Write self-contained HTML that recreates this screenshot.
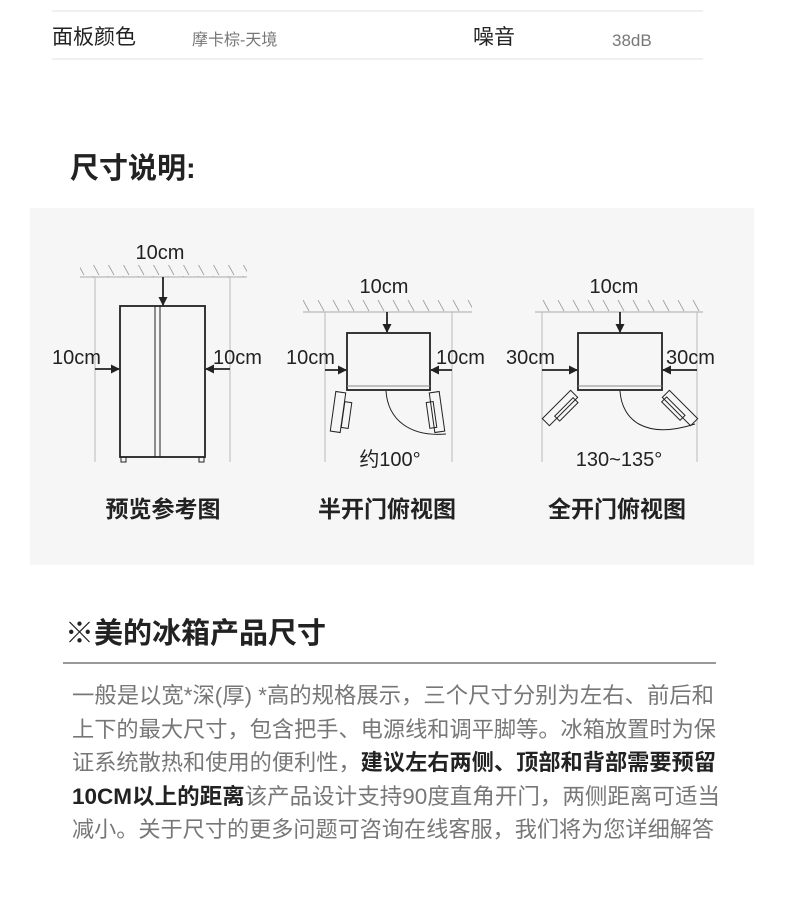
<!DOCTYPE html>
<html><head><meta charset="utf-8"><style>
html,body{margin:0;padding:0;background:#fff;}
svg{display:block;}
text{font-family:"Liberation Sans","Noto Sans CJK SC",sans-serif;}
</style></head><body>
<svg width="790" height="899" viewBox="0 0 790 899" xmlns="http://www.w3.org/2000/svg">
<defs>
<marker id="ah" markerWidth="9" markerHeight="9" refX="8" refY="4.5" orient="auto" markerUnits="userSpaceOnUse">
<path d="M0,0 L9,4.5 L0,9 z" fill="#222"/></marker>
<pattern id="hatch" width="15" height="12" patternUnits="userSpaceOnUse">
<line x1="3" y1="0" x2="9" y2="11" stroke="#999" stroke-width="0.8"/></pattern>
</defs>
<!-- table -->
<line x1="52" y1="11" x2="703" y2="11" stroke="#e2e2e2"/>
<line x1="52" y1="59" x2="703" y2="59" stroke="#e2e2e2"/>
<text x="52" y="44" font-size="21" fill="#222">面板颜色</text>
<text x="192" y="45" font-size="16" fill="#777">摩卡棕-天境</text>
<text x="473" y="44" font-size="21" fill="#222">噪音</text>
<text x="612" y="46" font-size="17" fill="#777">38dB</text>

<text x="70" y="178" font-size="29" font-weight="bold" fill="#222">尺寸说明:</text>

<rect x="30" y="208" width="724" height="357" fill="#f6f6f6"/>

<g stroke="#222" fill="none" stroke-width="1.8">
<!-- diagram 1 -->
<rect x="80" y="265" width="167" height="12" fill="url(#hatch)" stroke="none"/>
<line x1="80" y1="277" x2="247" y2="277" stroke="#aaa" stroke-width="1"/>
<line x1="95" y1="277" x2="95" y2="462" stroke="#bbb" stroke-width="1"/>
<line x1="230" y1="277" x2="230" y2="462" stroke="#bbb" stroke-width="1"/>
<rect x="120" y="306" width="85" height="151"/>
<line x1="155" y1="306" x2="155" y2="457" stroke-width="1"/>
<line x1="160" y1="306" x2="160" y2="457" stroke-width="1"/>
<rect x="121" y="457" width="5" height="5" stroke-width="1"/>
<rect x="199" y="457" width="5" height="5" stroke-width="1"/>
<line x1="163" y1="277" x2="163" y2="305" marker-end="url(#ah)"/>
<line x1="95" y1="369" x2="119" y2="369" marker-end="url(#ah)"/>
<line x1="230" y1="369" x2="206" y2="369" marker-end="url(#ah)"/>

<!-- diagram 2 -->
<rect x="303" y="300" width="169" height="12" fill="url(#hatch)" stroke="none"/>
<line x1="303" y1="312" x2="472" y2="312" stroke="#aaa" stroke-width="1"/>
<line x1="325" y1="312" x2="325" y2="462" stroke="#bbb" stroke-width="1"/>
<line x1="452" y1="312" x2="452" y2="462" stroke="#bbb" stroke-width="1"/>
<rect x="347" y="333" width="83" height="57"/>
<line x1="347" y1="386" x2="430" y2="386" stroke="#888" stroke-width="1"/>
<line x1="387" y1="312" x2="387" y2="332" marker-end="url(#ah)"/>
<line x1="325" y1="370" x2="346" y2="370" marker-end="url(#ah)"/>
<line x1="452" y1="370" x2="431" y2="370" marker-end="url(#ah)"/>
<g stroke-width="1">
<rect x="333" y="392" width="10" height="40" transform="rotate(8 338 412)"/>
<rect x="343" y="402" width="7" height="26" transform="rotate(8 346 415)"/>
<rect x="432" y="392" width="10" height="40" transform="rotate(-8 437 412)"/>
<rect x="428" y="402" width="7" height="26" transform="rotate(-8 431 415)"/>
<path d="M386,391 C388,420 410,437 446,434"/>
</g>

<!-- diagram 3 -->
<rect x="535" y="300" width="168" height="12" fill="url(#hatch)" stroke="none"/>
<line x1="535" y1="312" x2="703" y2="312" stroke="#aaa" stroke-width="1"/>
<line x1="542" y1="312" x2="542" y2="462" stroke="#bbb" stroke-width="1"/>
<line x1="697" y1="312" x2="697" y2="462" stroke="#bbb" stroke-width="1"/>
<rect x="578" y="333" width="84" height="57"/>
<line x1="578" y1="386" x2="662" y2="386" stroke="#888" stroke-width="1"/>
<line x1="620" y1="312" x2="620" y2="332" marker-end="url(#ah)"/>
<line x1="542" y1="370" x2="577" y2="370" marker-end="url(#ah)"/>
<line x1="697" y1="370" x2="663" y2="370" marker-end="url(#ah)"/>
<g stroke-width="1">
<rect x="555" y="388" width="10" height="40" transform="rotate(45 560 408)"/>
<rect x="563" y="396" width="7" height="26" transform="rotate(45 566 409)"/>
<rect x="675" y="388" width="10" height="40" transform="rotate(-45 680 408)"/>
<rect x="670" y="396" width="7" height="26" transform="rotate(-45 673 409)"/>
<path d="M620,391 C622,420 645,440 695,424"/>
</g>
</g>

<g font-size="20" fill="#222">
<text x="160" y="259" text-anchor="middle">10cm</text>
<text x="52" y="364">10cm</text>
<text x="213" y="364">10cm</text>
<text x="384" y="293" text-anchor="middle">10cm</text>
<text x="286" y="364">10cm</text>
<text x="436" y="364">10cm</text>
<text x="390" y="466" text-anchor="middle">约100°</text>
<text x="614" y="293" text-anchor="middle">10cm</text>
<text x="506" y="364">30cm</text>
<text x="666" y="364">30cm</text>
<text x="619" y="466" text-anchor="middle">130~135°</text>
</g>
<g font-size="23" font-weight="bold" fill="#222" text-anchor="middle">
<text x="163" y="517">预览参考图</text>
<text x="387" y="517">半开门俯视图</text>
<text x="617" y="517">全开门俯视图</text>
</g>

<text x="65" y="643" font-size="29" font-weight="bold" fill="#222">※美的冰箱产品尺寸</text>
<line x1="63" y1="663" x2="716" y2="663" stroke="#333" stroke-width="1"/>

<g font-size="22" fill="#777">
<text x="72" y="703" textLength="642" lengthAdjust="spacingAndGlyphs">一般是以宽*深(厚) *高的规格展示，三个尺寸分别为左右、前后和</text>
<text x="72" y="737" textLength="644" lengthAdjust="spacingAndGlyphs">上下的最大尺寸，包含把手、电源线和调平脚等。冰箱放置时为保</text>
<text x="72" y="770" textLength="644" lengthAdjust="spacingAndGlyphs">证系统散热和使用的便利性，<tspan fill="#222" font-weight="bold">建议左右两侧、顶部和背部需要预留</tspan></text>
<text x="72" y="804" textLength="648" lengthAdjust="spacingAndGlyphs"><tspan fill="#222" font-weight="bold">10CM以上的距离</tspan>该产品设计支持90度直角开门，两侧距离可适当</text>
<text x="72" y="837" textLength="642" lengthAdjust="spacingAndGlyphs">减小。关于尺寸的更多问题可咨询在线客服，我们将为您详细解答</text>
</g>
</svg>
</body></html>
